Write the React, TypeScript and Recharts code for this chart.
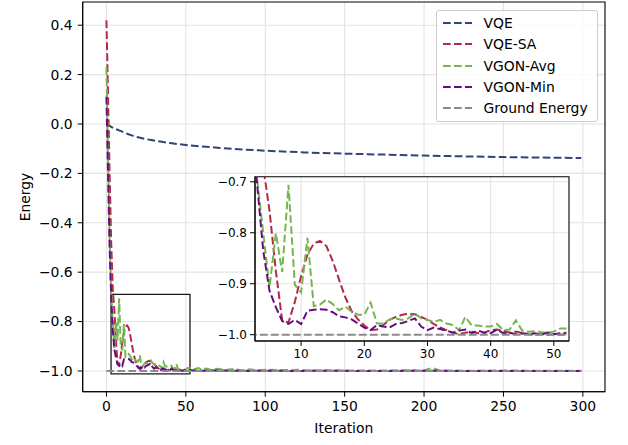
import React from 'react';
import { LineChart, Line, XAxis, YAxis, CartesianGrid, ReferenceArea } from 'recharts';

const FONT = "'DejaVu Sans', sans-serif";

// ---- data ----
const vqeIter = [0, 2, 5, 10, 15, 20, 30, 40, 50, 60, 70, 80, 100, 125, 150, 175, 200, 225, 250, 275, 299];
const vqeVals = [0.0, -0.008, -0.018, -0.031, -0.044, -0.054, -0.067, -0.077, -0.085, -0.091, -0.096, -0.101, -0.108, -0.115, -0.12, -0.124, -0.128, -0.131, -0.134, -0.136, -0.138];

const earlyIter = [0, 1, 2, 3, 4, 5, 6, 7, 8, 9, 10, 11, 12, 13, 14, 15, 16, 17, 18, 19, 20, 21, 22, 23, 24, 25, 26, 27, 28, 29, 30, 31, 32, 33, 34, 35, 36, 37, 38, 39, 40, 41, 42, 43, 44, 45, 46, 47, 48, 49, 50, 51, 52];

const vqeSaEarly = [0.42, 0.12, -0.2, -0.48, -0.67, -0.757, -0.875, -0.972, -0.976, -0.936, -0.885, -0.843, -0.821, -0.816, -0.826, -0.855, -0.892, -0.927, -0.954, -0.97, -0.982, -0.991, -0.99, -0.981, -0.971, -0.965, -0.961, -0.959, -0.96, -0.965, -0.971, -0.979, -0.986, -0.991, -0.996, -0.999, -0.996, -0.994, -0.997, -0.996, -0.991, -0.99, -0.992, -0.996, -0.994, -0.997, -0.999, -1.0, -0.999, -1.0, -0.999, -1.0, -0.999];
const vgonAvgEarly = [0.23, -0.12, -0.45, -0.69, -0.8, -0.907, -0.801, -0.877, -0.706, -0.902, -0.917, -0.81, -0.944, -0.941, -0.931, -0.94, -0.952, -0.945, -0.955, -0.961, -0.961, -0.937, -0.978, -0.978, -0.97, -0.968, -0.971, -0.968, -0.958, -0.968, -0.971, -0.975, -0.971, -0.978, -0.981, -0.991, -0.965, -0.982, -0.982, -0.984, -0.984, -0.979, -0.991, -0.99, -0.972, -0.992, -0.994, -0.993, -0.995, -0.996, -0.994, -0.988, -0.988];
const vgonMinEarly = [0.11, -0.2, -0.5, -0.7, -0.835, -0.914, -0.946, -0.973, -0.979, -0.971, -0.979, -0.953, -0.951, -0.95, -0.951, -0.956, -0.964, -0.966, -0.97, -0.978, -0.986, -0.991, -0.981, -0.984, -0.986, -0.979, -0.977, -0.973, -0.968, -0.984, -0.991, -0.986, -0.989, -0.992, -0.996, -0.992, -0.99, -0.997, -0.992, -0.996, -0.997, -0.99, -0.997, -0.996, -0.999, -0.997, -0.999, -0.997, -1.0, -0.996, -0.999, -0.997, -0.996];

const lateIter = [55, 60, 70, 80, 90, 100, 120, 140, 160, 180, 200, 220, 240, 260, 280, 299];
const vqeSaLate = [-0.999, -1.0, -0.999, -1.0, -1.0, -1.0, -1.0, -1.0, -1.0, -1.0, -1.0, -1.0, -1.0, -1.0, -1.0, -1.0];
const vgonMinLate = [-0.998, -0.999, -0.998, -0.999, -1.0, -0.999, -1.0, -0.999, -1.0, -1.0, -0.999, -1.0, -1.0, -1.0, -1.0, -1.0];
const avgLateIter = [55, 58, 60, 63, 66, 70, 75, 80, 85, 90, 95, 100, 110, 120, 130, 140, 150, 170, 190, 200, 205, 210, 230, 250, 270, 299];
const vgonAvgLate = [-0.993, -0.988, -0.995, -0.99, -0.996, -0.991, -0.996, -0.992, -0.997, -0.993, -0.997, -0.995, -0.997, -0.995, -0.998, -0.997, -0.998, -0.998, -0.997, -0.998, -0.988, -0.998, -0.999, -0.998, -0.999, -0.999];

const groundIter = [0, 299];
const groundVals = [-1.0, -1.0];

const mainXTicks = [0, 50, 100, 150, 200, 250, 300];
const mainYTicks = [-1.0, -0.8, -0.6, -0.4, -0.2, 0.0, 0.2, 0.4];
const insetXTicks = [10, 20, 30, 40, 50];
const insetYTicks = [-1.0, -0.9, -0.8, -0.7];

const seriesNames = ['VQE', 'VQE-SA', 'VGON-Avg', 'VGON-Min', 'Ground Energy'];
const seriesColors = ['#33427a', '#b22a45', '#74b64f', '#650c80', '#8a8a8a'];

const pts = (xs: number[], ys: number[]) => xs.map((x, i) => ({ x, y: ys[i] }));

const vqeData = pts(vqeIter, vqeVals);
const vqeSaData = [...pts(earlyIter, vqeSaEarly), ...pts(lateIter, vqeSaLate)];
const vgonAvgData = [...pts(earlyIter, vgonAvgEarly), ...pts(avgLateIter, vgonAvgLate)];
const vgonMinData = [...pts(earlyIter, vgonMinEarly), ...pts(lateIter, vgonMinLate)];
const groundData = pts(groundIter, groundVals);

const insetSa = pts(earlyIter, vqeSaEarly);
const insetAvg = pts(earlyIter, vgonAvgEarly);
const insetMin = pts(earlyIter, vgonMinEarly);

const fmtY = (v: number) => {
  const r = Math.round(v * 10) / 10;
  return (r < 0 ? '\u2212' : '') + Math.abs(r).toFixed(1);
};

const DASH = '7.7 3.3';
const LW = 2;
const GRID = '#e3e3e3';

const MAIN_X_DOMAIN: [number, number] = [-14.95, 313.95];
const MAIN_Y_DOMAIN: [number, number] = [-1.084, 0.494];
const INSET_X_DOMAIN: [number, number] = [2.7, 52.4];
const INSET_Y_DOMAIN: [number, number] = [-1.0124, -0.69];

function Legend() {
  const rows = seriesNames.map((n, i) => (
    <div key={n} style={{ position: 'absolute', left: 0, top: 1.7 + i * 21.4, height: 20, width: 163 }}>
      <svg width={40} height={20} style={{ position: 'absolute', left: 0, top: 0 }}>
        <line x1={6} x2={35} y1={10} y2={10} stroke={seriesColors[i]} strokeWidth={LW} strokeDasharray={DASH} />
      </svg>
      <span style={{ position: 'absolute', left: 47, top: 0, lineHeight: '20px', fontSize: 13.9, color: '#000', whiteSpace: 'nowrap' }}>{n}</span>
    </div>
  ));
  return (
    <div
      style={{
        position: 'absolute',
        left: 435.5,
        top: 10,
        width: 162,
        height: 112,
        background: 'rgba(255,255,255,0.8)',
        border: '1px solid #cccccc',
        borderRadius: 3,
        boxSizing: 'border-box',
        fontFamily: FONT,
      }}
    >
      {rows}
    </div>
  );
}

export default function App() {
  const tickMain = { fill: '#000', fontSize: 13.9, fontFamily: FONT };
  const tickInset = { fill: '#000', fontSize: 12, fontFamily: FONT };
  return (
    <div style={{ position: 'absolute', left: 0, top: 0, width: 628, height: 445, background: '#fff', fontFamily: FONT }}>
      <div style={{ position: 'absolute', left: 0, top: 0 }}>
        <LineChart width={628} height={445} margin={{ top: 2, right: 23, bottom: 0, left: 0 }}>
          <CartesianGrid stroke={GRID} strokeWidth={1.1} horizontalValues={mainYTicks} verticalValues={mainXTicks} />
          <XAxis
            dataKey="x"
            type="number"
            domain={MAIN_X_DOMAIN}
            ticks={mainXTicks}
            allowDataOverflow
            height={53.3}
            tickSize={5}
            tickMargin={4}
            tick={tickMain}
            stroke="#000"
            interval={0}
          />
          <YAxis
            type="number"
            domain={MAIN_Y_DOMAIN}
            ticks={mainYTicks}
            allowDataOverflow
            width={82.7}
            tickSize={5}
            tickMargin={5}
            tick={tickMain}
            tickFormatter={fmtY}
            stroke="#000"
            interval={0}
          />
          <Line data={vqeData} dataKey="y" type="monotone" stroke={seriesColors[0]} strokeWidth={LW} strokeDasharray={DASH} dot={false} activeDot={false} isAnimationActive={false} />
          <Line data={vqeSaData} dataKey="y" type="linear" stroke={seriesColors[1]} strokeWidth={LW} strokeDasharray={DASH} dot={false} activeDot={false} isAnimationActive={false} />
          <Line data={vgonAvgData} dataKey="y" type="linear" stroke={seriesColors[2]} strokeWidth={LW} strokeDasharray={DASH} dot={false} activeDot={false} isAnimationActive={false} />
          <Line data={vgonMinData} dataKey="y" type="linear" stroke={seriesColors[3]} strokeWidth={LW} strokeDasharray={DASH} dot={false} activeDot={false} isAnimationActive={false} />
          <Line data={groundData} dataKey="y" type="linear" stroke={seriesColors[4]} strokeWidth={LW} strokeDasharray={DASH} dot={false} activeDot={false} isAnimationActive={false} />
          <ReferenceArea x1={2.9} x2={52.6} y1={-1.012} y2={-0.69} fill="none" fillOpacity={0} stroke="#1a1a1a" strokeWidth={1.3} ifOverflow="visible" />
          <ReferenceArea x1={MAIN_X_DOMAIN[0]} x2={MAIN_X_DOMAIN[1]} y1={MAIN_Y_DOMAIN[0]} y2={MAIN_Y_DOMAIN[1]} fill="none" fillOpacity={0} stroke="#000" strokeWidth={1.1} ifOverflow="visible" />
        </LineChart>
      </div>

      <div style={{ position: 'absolute', left: 215, top: 170 }}>
        <LineChart width={360} height={200} margin={{ top: 6.7, right: 6, bottom: 4, left: 0 }}>
          <CartesianGrid stroke={GRID} strokeWidth={1.1} fill="#fff" horizontalValues={insetYTicks} verticalValues={insetXTicks} />
          <XAxis
            dataKey="x"
            type="number"
            domain={INSET_X_DOMAIN}
            ticks={insetXTicks}
            allowDataOverflow
            height={25}
            tickSize={5}
            tickMargin={3}
            tick={tickInset}
            stroke="#000"
            interval={0}
          />
          <YAxis
            type="number"
            domain={INSET_Y_DOMAIN}
            ticks={insetYTicks}
            allowDataOverflow
            width={40}
            tickSize={5}
            tickMargin={3}
            tick={tickInset}
            tickFormatter={fmtY}
            stroke="#000"
            interval={0}
          />
          <Line data={insetSa} dataKey="y" type="linear" stroke={seriesColors[1]} strokeWidth={LW} strokeDasharray={DASH} dot={false} activeDot={false} isAnimationActive={false} />
          <Line data={insetAvg} dataKey="y" type="linear" stroke={seriesColors[2]} strokeWidth={LW} strokeDasharray={DASH} dot={false} activeDot={false} isAnimationActive={false} />
          <Line data={insetMin} dataKey="y" type="linear" stroke={seriesColors[3]} strokeWidth={LW} strokeDasharray={DASH} dot={false} activeDot={false} isAnimationActive={false} />
          <Line data={groundData} dataKey="y" type="linear" stroke={seriesColors[4]} strokeWidth={LW} strokeDasharray={DASH} dot={false} activeDot={false} isAnimationActive={false} />
          <ReferenceArea x1={INSET_X_DOMAIN[0]} x2={INSET_X_DOMAIN[1]} y1={INSET_Y_DOMAIN[0]} y2={INSET_Y_DOMAIN[1]} fill="none" fillOpacity={0} stroke="#000" strokeWidth={1.1} ifOverflow="visible" />
        </LineChart>
      </div>

      <Legend />

      <div style={{ position: 'absolute', left: 343.8, top: 428, transform: 'translate(-50%, -50%)', fontSize: 13.9, whiteSpace: 'nowrap' }}>Iteration</div>
      <div style={{ position: 'absolute', left: 25, top: 197, transform: 'translate(-50%, -50%) rotate(-90deg)', fontSize: 13.9, whiteSpace: 'nowrap' }}>Energy</div>
    </div>
  );
}
